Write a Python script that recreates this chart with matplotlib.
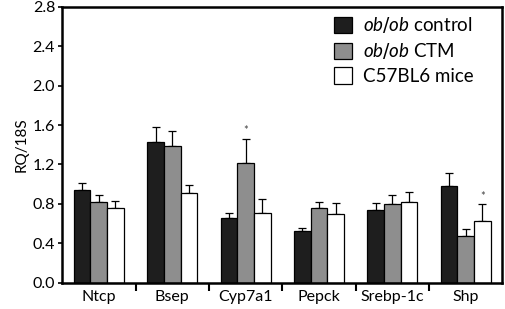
import numpy as np
import matplotlib.pyplot as plt
from matplotlib.patches import Patch

genes = ['Ntcp', 'Bsep', 'Cyp7a1', 'Pepck', 'Srebp-1c', 'Shp']
series = ['$\\it{ob/ob}$ control', '$\\it{ob/ob}$ CTM', 'C57BL6 mice']
control = [0.94, 1.43, 0.66, 0.53, 0.74, 0.98]
control_err = [0.07, 0.15, 0.05, 0.03, 0.07, 0.13]
ctm = [0.82, 1.39, 1.22, 0.76, 0.80, 0.47]
ctm_err = [0.07, 0.15, 0.24, 0.06, 0.09, 0.08]
wild = [0.76, 0.91, 0.71, 0.70, 0.82, 0.63]
wild_err = [0.07, 0.08, 0.14, 0.11, 0.10, 0.17]

plt.rcParams['font.family'] = 'Lato'
plt.rcParams['mathtext.fontset'] = 'custom'
plt.rcParams['mathtext.it'] = 'Lato:italic'
fig = plt.figure(figsize=(5.05, 3.09), dpi=100)
ax = fig.add_axes([0.123, 0.085, 0.872, 0.893])

x = np.arange(len(genes))
w = 0.227
colors = ['#1e1e1e', '#8e8e8e', 'white']
vals = [control, ctm, wild]
errs = [control_err, ctm_err, wild_err]
for i, (v, e, c) in enumerate(zip(vals, errs, colors)):
    pos = x + (i - 1) * w
    ax.bar(pos, v, w, color=c, edgecolor='black', linewidth=0.9, zorder=2)
    ax.errorbar(pos, v, yerr=[np.zeros(len(v)), e], fmt='none', ecolor='black',
                elinewidth=0.9, capsize=3, capthick=0.9, zorder=1)

# significance marks
for g, k in [(2, 1), (5, 2)]:
    top = vals[k][g] + errs[k][g]
    ax.text(x[g] + (k - 1) * w, top + 0.08, '*', ha='center', va='center',
            fontsize=8, color='#444444')

ax.set_xlim(-0.5, 5.5)
ax.set_ylim(0, 2.8)
ticks = np.arange(0, 2.81, 0.4)
ax.set_yticks(ticks)
ax.set_yticklabels([f'{t:.1f}' for t in ticks], fontsize=11.5)
ax.set_xticks(x)
ax.set_xticklabels(genes, fontsize=11.5)
ax.tick_params(axis='x', length=0, pad=5)
ax.set_xticks(np.arange(0.5, 5.5, 1), minor=True)
ax.tick_params(axis='x', which='minor', length=6, width=1.5)
ax.tick_params(axis='y', length=3, width=1.2, pad=2)
for s in ax.spines.values():
    s.set_linewidth(1.8)
ax.set_ylabel('RQ/18S', fontsize=11, labelpad=3)

handles = [Patch(facecolor=c, edgecolor='black', linewidth=0.9) for c in colors]
ax.legend(handles, series, loc='upper right', bbox_to_anchor=(0.935, 0.97),
          borderaxespad=0, borderpad=0, frameon=False, fontsize=13.5,
          handlelength=0.95, handleheight=0.95, handletextpad=0.6,
          labelspacing=0.33)

fig.savefig('out.png', dpi=100)
